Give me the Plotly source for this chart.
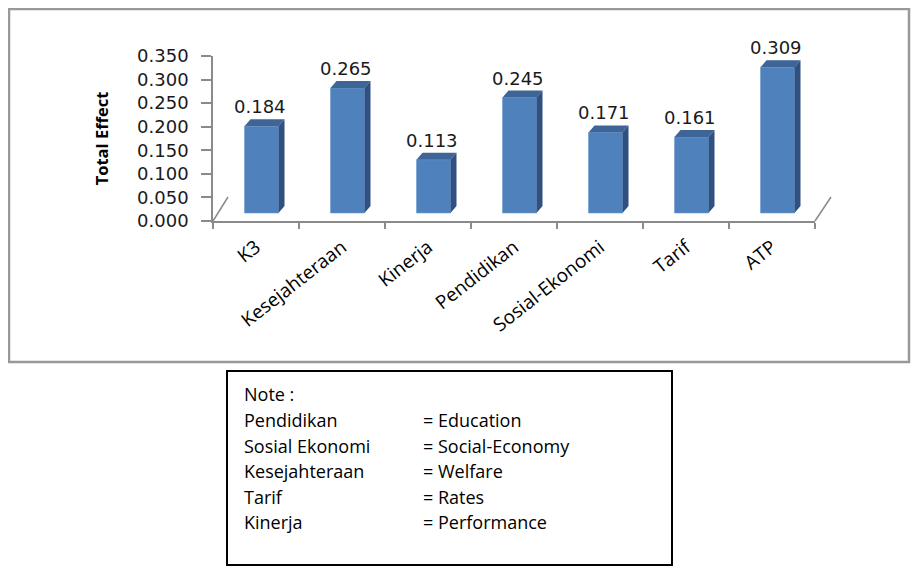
import plotly.graph_objects as go

# ---- data ----
categories = ["K3", "Kesejahteraan", "Kinerja", "Pendidikan", "Sosial-Ekonomi", "Tarif", "ATP"]
values = [0.184, 0.265, 0.113, 0.245, 0.171, 0.161, 0.309]
y_tickvals = [0.0, 0.05, 0.10, 0.15, 0.20, 0.25, 0.30, 0.35]
y_ticktext = ["0.000", "0.050", "0.100", "0.150", "0.200", "0.250", "0.300", "0.350"]
y_title = "Total Effect"
note_header = "Note :"
note_terms = ["Pendidikan", "Sosial Ekonomi", "Kesejahteraan", "Tarif", "Kinerja"]
note_translations = ["= Education", "= Social-Economy", "= Welfare", "= Rates", "= Performance"]

# ---- geometry / style ----
W, H = 920, 576
PAGE_OFF = 8                     # default page margin around the plot div
px_x0, px_x1 = 213, 815          # plot area horizontal pixels (screen)
px_y0, px_y1 = 221, 56           # screen pixel of y=0 and y=0.35
ymax = 0.35
px_per_unit = (px_y0 - px_y1) / ymax
cat_px = (px_x1 - px_x0) / len(categories)

bar_lift = 8 / px_per_unit       # 3D: bars stand a little behind the front floor edge
bar_width = 34 / cat_px
bar_offset = -bar_width / 2 + 5.5 / cat_px
depth_dx = 6 / cat_px
depth_dy = 7 / px_per_unit

FRONT = "#4F81BD"
TOP = "#3D6597"
SIDE = "#2F5080"
AXIS = "#8a8a8a"

def px(xp):
    return max(xp - PAGE_OFF, 1) / W

def py(yp):
    return 1 - max(yp - PAGE_OFF, 1) / H

fig = go.Figure()
fig.add_trace(go.Bar(
    x=categories, y=values, base=bar_lift,
    width=bar_width, offset=bar_offset,
    marker=dict(color=FRONT, line=dict(color="#6f9bd0", width=0.6)),
    hoverinfo="x+y", showlegend=False,
))

shapes = []
# 3D top and side faces derived from values
for i, v in enumerate(values):
    xl = i + bar_offset
    xr = xl + bar_width
    b = bar_lift
    t = v + bar_lift
    top = (f"M {xl},{t} L {xr},{t} L {xr + depth_dx},{t + depth_dy} "
           f"L {xl + depth_dx},{t + depth_dy} Z")
    side = (f"M {xr},{b} L {xr},{t} L {xr + depth_dx},{t + depth_dy} "
            f"L {xr + depth_dx},{b + depth_dy} Z")
    shapes.append(dict(type="path", path=top, xref="x", yref="y",
                       fillcolor=TOP, line=dict(width=0), layer="above"))
    shapes.append(dict(type="path", path=side, xref="x", yref="y",
                       fillcolor=SIDE, line=dict(width=0), layer="above"))

# floor depth lines
shapes.append(dict(type="line", xref="paper", yref="paper",
                   x0=px(213), y0=py(221), x1=px(228), y1=py(197),
                   line=dict(color=AXIS, width=1.5)))
shapes.append(dict(type="line", xref="paper", yref="paper",
                   x0=px(815), y0=py(221), x1=px(831), y1=py(197),
                   line=dict(color=AXIS, width=1.5)))
# chart frame
shapes.append(dict(type="rect", xref="paper", yref="paper",
                   x0=px(4), y0=py(362), x1=px(909), y1=py(5),
                   line=dict(color="#999999", width=2.5), fillcolor="rgba(0,0,0,0)"))
# note box
shapes.append(dict(type="rect", xref="paper", yref="paper",
                   x0=px(227), y0=py(565), x1=px(672), y1=py(371),
                   line=dict(color="#000000", width=2), fillcolor="rgba(0,0,0,0)"))

annotations = []
# value labels
for c, v in zip(categories, values):
    annotations.append(dict(
        x=c, y=v + bar_lift, xref="x", yref="y", text=f"{v:.3f}", showarrow=False,
        yanchor="bottom", xanchor="center", xshift=4, yshift=7,
        font=dict(family="DejaVu Sans", size=18, color="#1a1a1a"),
    ))

note_font = dict(family="Open Sans", size=18, color="#000000")
annotations.append(dict(x=px(242), y=py(394), xref="paper", yref="paper",
                        text=note_header, showarrow=False, xanchor="left",
                        yanchor="middle", font=note_font))
row_y = [420, 445.5, 471, 496.5, 522]
for term, tr, yy in zip(note_terms, note_translations, row_y):
    annotations.append(dict(x=px(242), y=py(yy), xref="paper", yref="paper",
                            text=term, showarrow=False, xanchor="left",
                            yanchor="middle", font=note_font))
    annotations.append(dict(x=px(421), y=py(yy), xref="paper", yref="paper",
                            text=tr, showarrow=False, xanchor="left",
                            yanchor="middle", font=note_font))

fig.update_layout(
    width=W, height=H,
    margin=dict(l=0, r=0, t=0, b=0, autoexpand=False),
    paper_bgcolor="white", plot_bgcolor="white",
    showlegend=False,
    xaxis=dict(
        domain=[px(px_x0), px(px_x1)], automargin=False,
        type="category", categoryorder="array", categoryarray=categories,
        range=[-0.5, len(categories) - 0.5],
        showline=True, linecolor=AXIS, linewidth=1.5,
        ticks="outside", tickson="boundaries", ticklen=6, tickcolor=AXIS, tickwidth=1.5,
        tickangle=-38, ticklabelstandoff=6,
        tickfont=dict(family="Open Sans", size=19, color="#000000"),
        showgrid=False, zeroline=False, fixedrange=True,
    ),
    yaxis=dict(
        domain=[py(px_y0), py(px_y1)], automargin=False,
        range=[0, ymax],
        tickvals=y_tickvals, ticktext=y_ticktext,
        showline=True, linecolor=AXIS, linewidth=1.5,
        ticks="outside", ticklen=10, tickcolor=AXIS, tickwidth=1.5,
        ticklabelstandoff=9,
        tickfont=dict(family="DejaVu Sans", size=18, color="#1a1a1a"),
        title=dict(text=f"<b>{y_title}</b>", standoff=24,
                   font=dict(family="Open Sans", size=16.5, color="#000000")),
        showgrid=False, zeroline=False, fixedrange=True,
    ),
    shapes=shapes,
    annotations=annotations,
)

fig.write_html("out.html")
